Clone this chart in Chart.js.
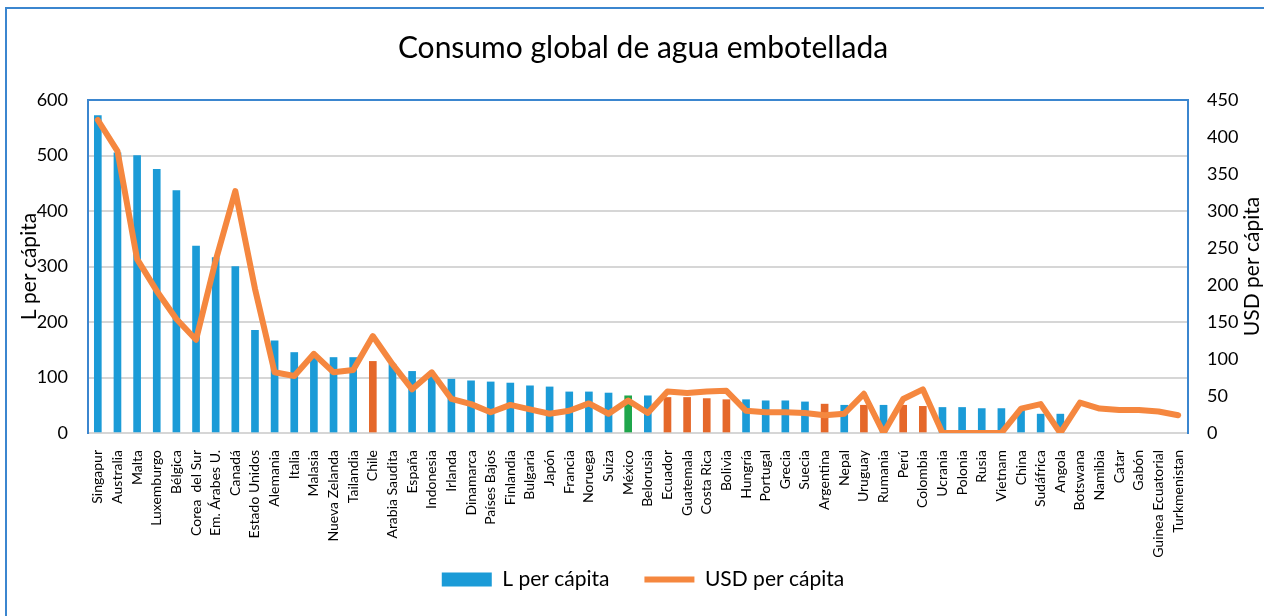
<!DOCTYPE html>
<html>
<head>
<meta charset="utf-8">
<script src="https://cdn.jsdelivr.net/npm/chart.js@4.4.1/dist/chart.umd.min.js"></script>
<style>
  html, body { margin: 0; padding: 0; background: #fff; overflow: hidden; }
  #frame { position: absolute; left: 5px; top: 7px; width: 1300px; height: 700px; border: 2px solid #3b86cf; box-sizing: border-box; }
  #wrap { position: absolute; left: 0; top: 0; width: 1264px; height: 616px; }
</style>
</head>
<body>
<div id="frame"></div>
<div id="wrap"><canvas id="chart" width="1264" height="616"></canvas></div>
<script>
// Countries (x axis)
const paises = ['Singapur', 'Australia', 'Malta', 'Luxemburgo', 'Bélgica', 'Corea  del Sur', 'Em. Árabes U.', 'Canadá',
    'Estado Unidos', 'Alemania', 'Italia', 'Malasia', 'Nueva Zelanda', 'Tailandia', 'Chile', 'Arabia Saudita',
    'España', 'Indonesia', 'Irlanda', 'Dinamarca', 'Países Bajos', 'Finlandia', 'Bulgaria', 'Japón', 'Francia',
    'Noruega', 'Suiza', 'México', 'Belorusia', 'Ecuador', 'Guatemala', 'Costa Rica', 'Bolivia', 'Hungría',
    'Portugal', 'Grecia', 'Suecia', 'Argentina', 'Nepal', 'Uruguay', 'Rumania', 'Perú', 'Colombia', 'Ucrania',
    'Polonia', 'Rusia', 'Vietnam', 'China', 'Sudáfrica', 'Angola', 'Botswana', 'Namibia', 'Catar', 'Gabón',
    'Guinea Ecuatorial', 'Turkmenistan'];

// Litres per capita (left axis); last six countries have no bar
const litrosPerCapita = [572, 505, 500, 475, 437, 337, 316, 300, 185, 166, 145, 136, 136, 136, 129, 124,
    111, 105, 97, 94, 92, 90, 85, 83, 74, 74, 72, 67, 67, 64, 64, 62, 60, 60, 58, 58, 56, 52, 50, 50, 50, 50,
    48, 46, 46, 44, 44, 42, 34, 34, null, null, null, null, null, null];

// USD per capita (right axis)
const usdPerCapita = [423, 381, 235, 192, 154, 126, 233, 327, 195, 82, 77, 107, 82, 85, 131, 93,
    59, 82, 46, 39, 28, 38, 32, 26, 30, 40, 26, 44, 27, 56, 54, 56, 57, 30, 28, 28, 27, 24, 26, 53, 0, 46,
    59, 0, 0, 0, 0, 33, 39, 0, 41, 33, 31, 31, 29, 24];

// Latin American countries get orange bars, Mexico green
const latam = ['Chile', 'Ecuador', 'Guatemala', 'Costa Rica', 'Bolivia', 'Argentina', 'Uruguay', 'Perú', 'Colombia'];

const AZUL = '#1b9bd7';
const NARANJA_BARRA = '#e5682a';
const VERDE = '#1fa64b';
const NARANJA_LINEA = '#f5873f';
const MARCO = '#3b86cf';
const REJILLA = '#d6d6d6';
const FUENTE = 'Lato, "Open Sans", sans-serif';

const barColors = paises.map(p => p === 'México' ? VERDE : (latam.includes(p) ? NARANJA_BARRA : AZUL));

Chart.defaults.font.family = FUENTE;
Chart.defaults.color = '#000';

// both axis titles read bottom-to-top in the original
const axisTitles = {
    id: 'axisTitles',
    afterDraw(chart) {
        const {ctx, chartArea} = chart;
        const midY = (chartArea.top + chartArea.bottom) / 2;
        const draw = (text, x) => {
            ctx.save();
            ctx.translate(x, midY);
            ctx.rotate(-Math.PI / 2);
            ctx.font = '21px ' + FUENTE;
            ctx.fillStyle = '#000';
            ctx.textAlign = 'center';
            ctx.textBaseline = 'middle';
            ctx.fillText(text, 0, 0);
            ctx.restore();
        };
        draw('L per cápita', 29);
        draw('USD per cápita', 1252);
    }
};

const ctx = document.getElementById('chart').getContext('2d');
new Chart(ctx, {
    type: 'bar',
    data: {
        labels: paises,
        datasets: [
            {
                type: 'line',
                label: 'USD per cápita',
                data: usdPerCapita,
                yAxisID: 'y1',
                borderColor: NARANJA_LINEA,
                backgroundColor: NARANJA_LINEA,
                borderWidth: 6,
                borderCapStyle: 'round',
                borderJoinStyle: 'round',
                pointRadius: 0,
                pointStyle: 'line',
                tension: 0,
                order: 0
            },
            {
                type: 'bar',
                label: 'L per cápita',
                data: litrosPerCapita,
                yAxisID: 'y',
                backgroundColor: barColors,
                borderWidth: 0,
                barThickness: 7,
                pointStyle: 'rect',
                order: 1
            }
        ]
    },
    plugins: [axisTitles],
    options: {
        responsive: false,
        animation: false,
        layout: { padding: { left: 22, right: 0, top: 0, bottom: 16 } },
        plugins: {
            title: {
                display: true,
                text: 'Consumo global de agua embotellada',
                font: { size: 30, weight: 'normal' },
                color: '#000',
                padding: { top: 30, bottom: 34 }
            },
            legend: {
                position: 'bottom',
                reverse: true,
                labels: {
                    usePointStyle: true,
                    pointStyleWidth: 50,
                    boxHeight: 14,
                    padding: 8,
                    font: { size: 21 },
                    color: '#000',
                    generateLabels: chart => {
                        const items = Chart.defaults.plugins.legend.labels.generateLabels(chart);
                        // extra room between the two entries
                        items.forEach(it => { if (it.text === 'L per cápita') it.text += '     '; });
                        return items;
                    }
                }
            },
            tooltip: { enabled: false }
        },
        scales: {
            x: {
                grid: { display: false },
                border: { color: REJILLA, width: 2 },
                ticks: {
                    autoSkip: false,
                    maxRotation: 90,
                    minRotation: 90,
                    padding: 9,
                    font: { size: 14 }
                },
                afterFit: scale => { scale.height = 128; }
            },
            y: {
                position: 'left',
                min: 0,
                max: 600,
                ticks: { stepSize: 100, padding: 20, font: { size: 18 } },
                grid: {
                    drawTicks: false,
                    lineWidth: 2,
                    color: c => c.tick && c.tick.value === 600 ? MARCO : REJILLA
                },
                border: { color: MARCO, width: 2 },
                afterFit: scale => { scale.width = 66; }
            },
            y1: {
                position: 'right',
                min: 0,
                max: 450,
                ticks: { stepSize: 50, padding: 19, font: { size: 18 } },
                grid: { drawOnChartArea: false, drawTicks: false },
                border: { color: MARCO, width: 2 },
                afterFit: scale => { scale.width = 76; }
            }
        }
    }
});
</script>
</body>
</html>
